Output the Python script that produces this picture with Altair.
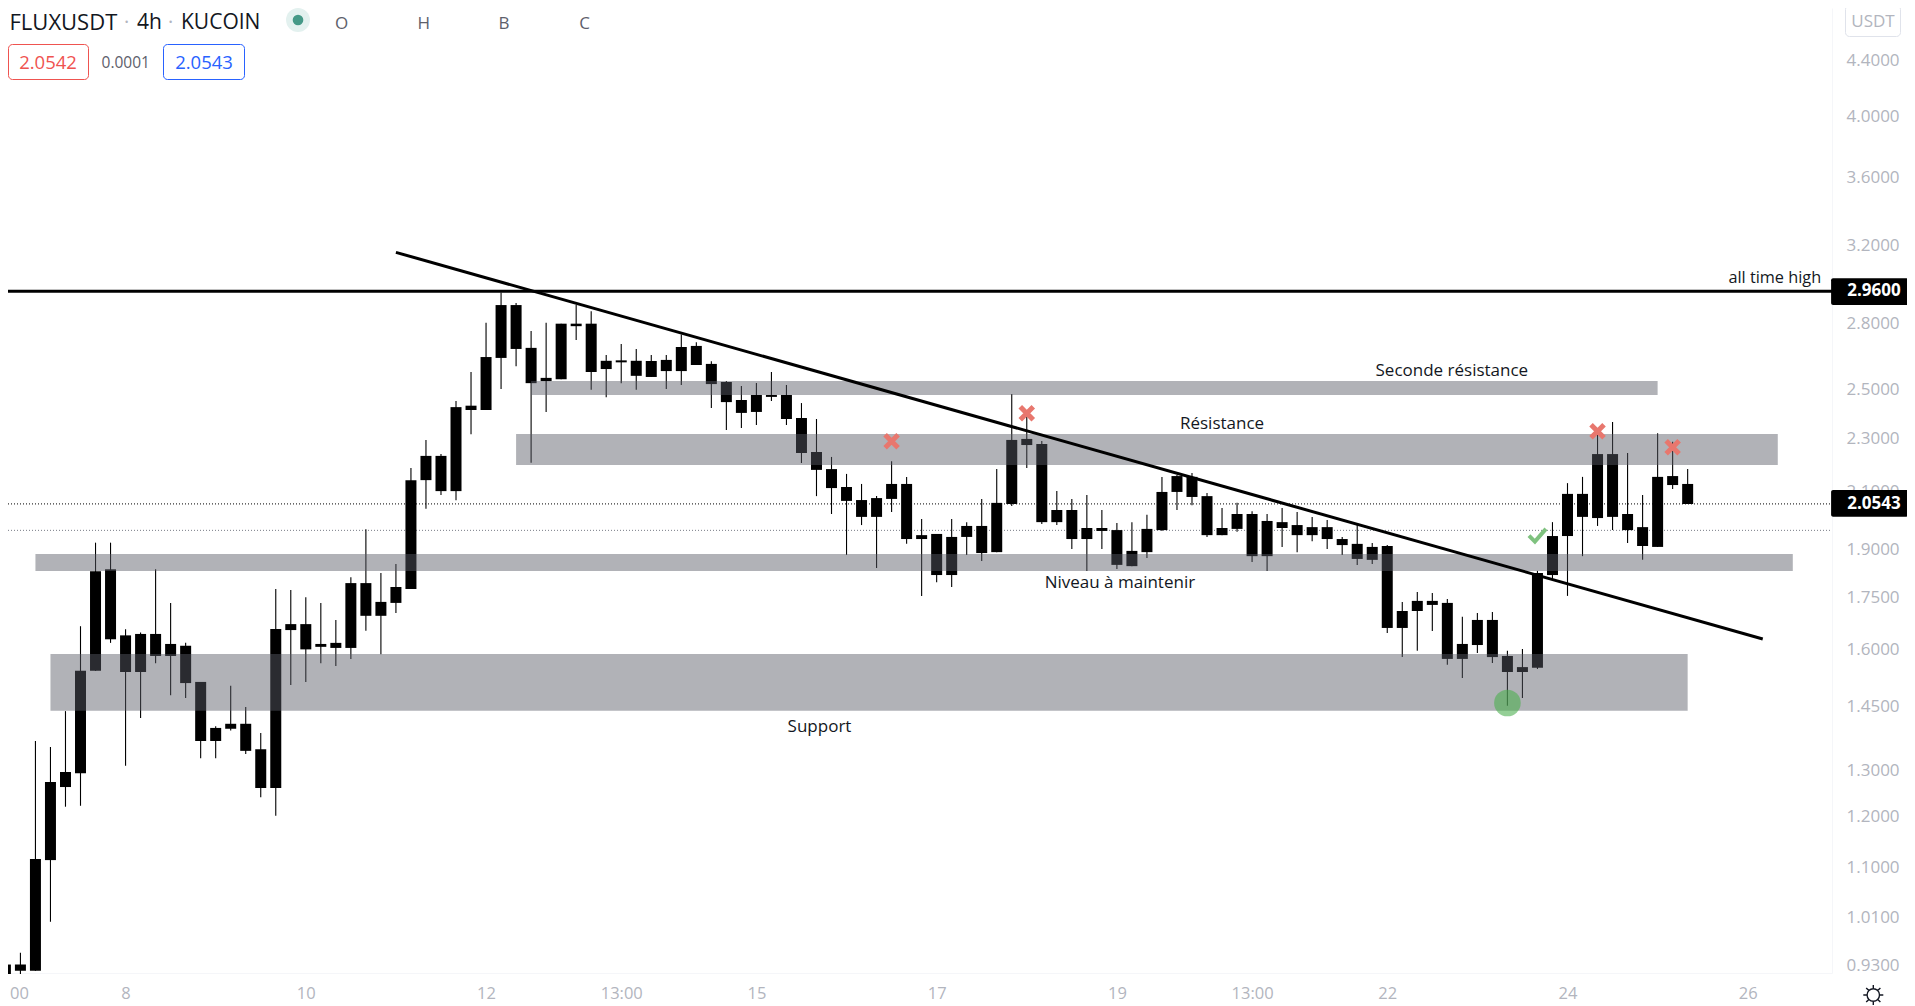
import altair as alt
import pandas as pd

# ---- candle values (USDT) ----
hi = [0.942,0.950,1.367,1.353,1.439,1.665,1.922,1.922,1.656,1.647,1.836,1.733,1.618,1.513,1.402,1.503,1.449,1.386,1.775,
      1.772,1.750,1.733,1.683,1.811,1.967,1.824,1.853,2.185,2.293,2.238,2.452,2.577,2.804,2.954,2.901,2.765,2.804,2.800,
      2.891,2.860,2.653,2.704,2.681,2.653,2.653,2.748,2.712,2.625,2.537,2.516,2.529,2.577,2.520,2.443,2.377,2.227,2.163,
      2.126,2.082,2.211,2.152,2.002,1.951,2.002,1.991,2.072,2.181,2.481,2.400,2.289,2.100,2.072,2.086,2.033,1.988,1.991,
      2.016,2.152,2.159,2.166,2.093,2.040,2.058,2.029,2.019,2.040,2.026,2.009,1.998,1.941,1.981,1.921,1.914,1.736,1.766,
      1.763,1.745,1.692,1.703,1.706,1.596,1.601,1.831,1.991,2.129,2.152,2.319,2.365,2.242,2.086,2.320,2.286,2.181]
top = [0.931,0.931,1.116,1.274,1.296,1.542,1.830,1.836,1.639,1.643,1.643,1.615,1.610,1.513,1.398,1.408,1.408,1.348,1.657,
       1.671,1.671,1.615,1.618,1.793,1.793,1.736,1.781,2.140,2.231,2.231,2.426,2.432,2.644,2.891,2.891,2.686,2.551,2.800,
       2.800,2.800,2.627,2.629,2.627,2.626,2.631,2.690,2.695,2.613,2.533,2.456,2.477,2.477,2.477,2.381,2.246,2.181,2.115,
       2.068,2.075,2.126,2.126,1.947,1.951,1.941,1.978,1.978,2.058,2.293,2.297,2.277,2.033,2.033,1.971,1.971,1.964,1.895,
       1.968,2.097,2.155,2.152,2.082,1.971,2.019,2.019,1.995,1.991,1.981,1.974,1.974,1.934,1.918,1.908,1.911,1.709,1.739,
       1.739,1.733,1.615,1.683,1.683,1.582,1.552,1.824,1.944,2.090,2.090,2.238,2.238,2.019,1.974,2.152,2.155,2.126]
bot = [0.916,0.921,0.921,1.114,1.263,1.293,1.542,1.628,1.539,1.539,1.582,1.582,1.510,1.367,1.367,1.396,1.344,1.261,1.261,
       1.654,1.600,1.607,1.604,1.604,1.695,1.695,1.733,1.775,2.140,2.100,2.100,2.414,2.414,2.640,2.681,2.528,2.537,2.545,
       2.788,2.577,2.590,2.620,2.560,2.555,2.581,2.581,2.608,2.524,2.447,2.402,2.406,2.469,2.377,2.242,2.178,2.111,2.065,
       2.009,2.009,2.072,1.934,1.934,1.818,1.818,1.941,1.888,1.891,2.054,2.273,1.991,1.991,1.934,1.934,1.961,1.850,1.846,
       1.891,1.964,2.097,2.079,1.947,1.947,1.968,1.878,1.878,1.971,1.947,1.947,1.934,1.914,1.869,1.866,1.660,1.660,1.709,
       1.727,1.574,1.574,1.612,1.579,1.539,1.539,1.550,1.818,1.944,2.009,2.005,2.009,1.964,1.911,1.908,2.122,2.054]
lo = [0.916,0.916,0.921,1.002,1.221,1.223,1.542,1.618,1.310,1.422,1.562,1.479,1.472,1.327,1.327,1.392,1.337,1.241,1.202,
      1.505,1.513,1.562,1.555,1.574,1.652,1.587,1.703,1.775,2.037,2.086,2.067,2.316,2.414,2.503,2.603,2.205,2.406,2.545,
      2.722,2.499,2.468,2.528,2.499,2.555,2.503,2.520,2.608,2.422,2.332,2.341,2.353,2.452,2.353,2.204,2.082,2.019,1.882,
      1.981,1.840,2.026,1.918,1.754,1.796,1.781,1.882,1.862,1.891,2.047,2.185,1.985,1.981,1.901,1.831,1.901,1.837,1.846,
      1.872,1.961,2.033,2.050,1.941,1.947,1.958,1.859,1.831,1.908,1.891,1.927,1.901,1.882,1.850,1.853,1.646,1.579,1.596,
      1.651,1.558,1.523,1.590,1.563,1.452,1.472,1.547,1.803,1.754,1.878,1.978,1.964,1.921,1.866,1.908,2.108,2.054]

# ---- drawings ----
band_names = ["Seconde résistance", "Résistance", "Niveau à maintenir", "Support"]
band_start = [35, 34, 2, 3]
band_end = [110, 118, 119, 112]
band_high = [2.5374, 2.3165, 1.8849, 1.5873]
band_low = [2.4770, 2.1963, 1.8306, 1.4401]
band_label_x = [96.3, 81.0, 74.2, 54.2]
band_label_y = [2.5806, 2.3560, 1.7928, 1.4014]

trend_x = [26.0, 117.0]
trend_y = [3.1651, 1.6288]
ath = 2.96
last = 2.0543
prev_level = 1.9631
cross_x = [59, 68, 106, 111]
cross_y = [2.2875, 2.4002, 2.3271, 2.2640]
check_x = [102]
check_y = [1.9452]
circle_x = [100]
circle_y = [1.4592]

price_ticks = [4.4, 4.0, 3.6, 3.2, 2.8, 2.5, 2.3, 2.1, 1.9, 1.75, 1.6, 1.45, 1.3, 1.2, 1.1, 1.01, 0.93]
time_ticks = [0.9, 8, 20, 32, 41, 50, 62, 74, 83, 92, 104, 116]
time_labels = ["00", "8", "10", "12", "13:00", "15", "17", "19", "13:00", "22", "24", "26"]

XMIN, XMAX = 0.173, 121.61
YMIN, YMAX = 0.91757, 4.8163
FONT = "Open Sans"
INK = "#131722"
AXIS_GREY = "#b2b5be"
FRAME = "#f5f6f9"

label_expr = "[" + ",".join(f"'{t}'" for t in time_labels) + "][indexof([" + ",".join(str(t) for t in time_ticks) + "],datum.value)]"

xs = alt.Scale(domain=[XMIN, XMAX], nice=False, zero=False, padding=0)
ys = alt.Scale(type="log", domain=[YMIN, YMAX], nice=False, zero=False, padding=0)
xax = alt.Axis(title=None, orient="bottom", values=time_ticks, labelExpr=label_expr, grid=False, ticks=False,
               domainColor=FRAME, labelColor=AXIS_GREY, labelFont=FONT, labelFontSize=16.5, labelPadding=12.5,
               labelOverlap=False, labelFlush=False, labelBound=False)
yax = alt.Axis(title=None, orient="right", values=price_ticks, format=".4f", grid=False, ticks=False,
               domainColor=FRAME, labelColor=AXIS_GREY, labelFont=FONT, labelFontSize=17, labelPadding=14,
               labelOverlap=False, labelFlush=False, labelBound=False)
X = lambda f: alt.X(f, type="quantitative", scale=xs, axis=xax)
Y = lambda f: alt.Y(f, type="quantitative", scale=ys, axis=yax)

candles = pd.DataFrame({"i": list(range(len(hi))), "hi": hi, "top": top, "bot": bot, "lo": lo})
bands = pd.DataFrame({"name": band_names, "a": band_start, "b": band_end, "hi": band_high, "lo": band_low,
                      "tx": band_label_x, "ty": band_label_y})


def hline(value, color, width, dash=None):
    kw = {"strokeDash": dash} if dash else {}
    return alt.Chart(pd.DataFrame({"a": [XMIN], "b": [XMAX], "y": [value]})).mark_rule(
        color=color, strokeWidth=width, **kw
    ).encode(x=X("a"), x2="b", y=Y("y"))


last_line = hline(last, "black", 1, [1, 2])
prev_line = hline(prev_level, "#787b86", 1, [1, 2])

wicks = alt.Chart(candles).mark_rule(color="black", strokeWidth=1.1).encode(x=X("i"), y=Y("lo"), y2="hi")
bodies = alt.Chart(candles).mark_bar(color="black", size=11).encode(x=X("i"), y=Y("top"), y2="bot")

band_rects = alt.Chart(bands).mark_rect(color="#5a5c67", opacity=0.47).encode(x=X("a"), x2="b", y=Y("hi"), y2="lo")
band_text = alt.Chart(bands).mark_text(font=FONT, fontSize=17, color=INK, align="center", baseline="middle").encode(
    x=X("tx"), y=Y("ty"), text="name:N")

trend = alt.Chart(pd.DataFrame({"x": [trend_x[0]], "x2": [trend_x[1]], "y": [trend_y[0]], "y2": [trend_y[1]]})).mark_rule(
    color="black", strokeWidth=3).encode(x=X("x"), x2="x2", y=Y("y"), y2="y2")

ath_line = hline(ath, "black", 3)
ath_text = alt.Chart(pd.DataFrame({"x": [117.8], "y": [3.0303], "t": ["all time high"]})).mark_text(
    font=FONT, fontSize=16.3, color=INK, baseline="middle").encode(x=X("x"), y=Y("y"), text="t:N")

crosses = alt.Chart(pd.DataFrame({"x": cross_x, "y": cross_y})).mark_point(
    shape="M-1,-1L1,1M-1,1L1,-1", filled=False, stroke="#e8776e", strokeWidth=5, size=169, opacity=1
).encode(x=X("x"), y=Y("y"))
check = alt.Chart(pd.DataFrame({"x": check_x, "y": check_y})).mark_point(
    shape="M-1,0L-0.3,0.7L1,-0.8", filled=False, stroke="#7fc27f", strokeWidth=4, size=289, opacity=1
).encode(x=X("x"), y=Y("y"))
circle = alt.Chart(pd.DataFrame({"x": circle_x, "y": circle_y})).mark_point(
    shape="circle", filled=True, color="#4caf50", opacity=0.6, size=707, strokeWidth=0
).encode(x=X("x"), y=Y("y"))

badge_df = pd.DataFrame({"a": [121.55, 121.55], "b": [126.7, 126.7], "hi": [3.0269, 2.1040], "lo": [2.8913, 2.0098],
                         "tx": [124.4, 124.4], "ty": [ath, last], "t": ["2.9600", "2.0543"]})
badges = alt.Chart(badge_df).mark_rect(color="black", cornerRadius=2).encode(x=X("a"), x2="b", y=Y("hi"), y2="lo")
badge_text = alt.Chart(badge_df).mark_text(font=FONT, fontSize=17, fontWeight="bold", color="white", baseline="middle").encode(
    x=X("tx"), y=Y("ty"), text="t:N")


def txt(s, x, y, size, color, align="left", weight="normal"):
    return alt.Chart(pd.DataFrame({"t": [s]})).mark_text(
        font=FONT, fontSize=size, color=color, align=align, baseline="middle", fontWeight=weight
    ).encode(text="t:N", x=alt.value(x - 8), y=alt.value(y - 8))


def box(x0, x1, y0, y1, stroke):
    return alt.Chart(pd.DataFrame({"t": [0]})).mark_rect(
        fill="white", stroke=stroke, strokeWidth=1, cornerRadius=4
    ).encode(x=alt.value(x0 - 8), x2=alt.value(x1 - 8), y=alt.value(y0 - 8), y2=alt.value(y1 - 8))


def dot(x, y, size, color):
    return alt.Chart(pd.DataFrame({"t": [0]})).mark_point(
        shape="circle", filled=True, color=color, size=size, opacity=1, strokeWidth=0
    ).encode(x=alt.value(x - 8), y=alt.value(y - 8))


GEAR = ("M0.62,0A0.62,0.62 0 1 1 -0.62,0A0.62,0.62 0 1 1 0.62,0"
        "M0.62,0L1,0M-0.62,0L-1,0M0,0.62L0,1M0,-0.62L0,-1"
        "M0.44,0.44L0.71,0.71M-0.44,0.44L-0.71,0.71M0.44,-0.44L0.71,-0.71M-0.44,-0.44L-0.71,-0.71")
gear = alt.Chart(pd.DataFrame({"t": [0]})).mark_point(
    shape=GEAR, filled=False, stroke=INK, strokeWidth=1.4, size=400, opacity=1
).encode(x=alt.value(1873.3 - 8), y=alt.value(995 - 8))

header = [
    txt("FLUXUSDT", 9.5, 23.2, 22, INK),
    txt("·", 126.5, 22.5, 20, AXIS_GREY, "center"),
    txt("4h", 137, 22.5, 21, INK),
    txt("·", 170.6, 22.5, 20, AXIS_GREY, "center"),
    txt("KUCOIN", 181, 22.5, 21, INK),
    dot(298, 20, 572, "#e3f1ef"),
    dot(298, 20, 113, "#459987"),
    txt("O", 341.6, 24, 17, "#5d606b", "center"),
    txt("H", 423.7, 24, 17, "#5d606b", "center"),
    txt("B", 504, 24, 17, "#5d606b", "center"),
    txt("C", 584.5, 24, 17, "#5d606b", "center"),
    box(8.5, 88.5, 44.5, 79.5, "#ef5350"),
    txt("2.0542", 48, 63, 18.5, "#ef5350", "center"),
    txt("0.0001", 125.7, 63, 15.5, "#5d606b", "center"),
    box(163.5, 244.5, 44.5, 79.5, "#2962ff"),
    txt("2.0543", 204, 63, 18.5, "#2962ff", "center"),
    box(1845.5, 1900.5, 5.5, 36.5, "#e0e3eb"),
    txt("USDT", 1873, 21.5, 17, AXIS_GREY, "center"),
]

chart = alt.layer(
    last_line, prev_line, wicks, bodies, band_rects, trend, ath_line, band_text, ath_text,
    crosses, check, circle, badges, badge_text, gear, *header
).resolve_scale(x="shared", y="shared").properties(
    width=1824, height=965, autosize="none",
    padding={"left": 0, "top": 0, "right": 75, "bottom": 33},
    background="white",
).configure_view(stroke=None)

chart.save("out.html", embed_options={"renderer": "svg", "actions": False})
